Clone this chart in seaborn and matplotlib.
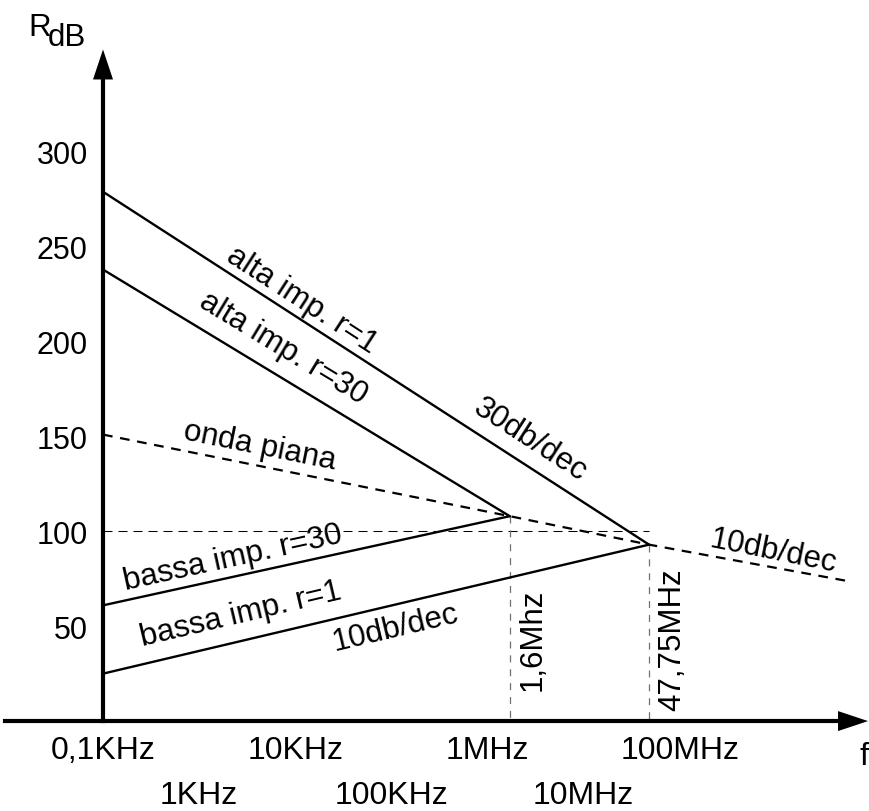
import numpy as np
import matplotlib
matplotlib.use('Agg')
import matplotlib.pyplot as plt
import seaborn as sns

# frequenze dei punti (Hz)
f_start = 1e2        # 0,1KHz
f_cut1 = 1.7e6       # ~1,6Mhz
f_cut2 = 4.775e7     # 47,75MHz
f_end = 5.3e9

# curve R_dB
alta_r1_f = [f_start, f_cut2]
alta_r1_db = [279, 93]
alta_r30_f = [f_start, f_cut1]
alta_r30_db = [238, 108]
bassa_r30_f = [f_start, f_cut1]
bassa_r30_db = [61, 108]
bassa_r1_f = [f_start, f_cut2]
bassa_r1_db = [25, 93]
onda_f = [f_start, f_cut1, f_cut2, f_end]
onda_db = [151, 108, 93, 74]

# assi: prima riga (major) e seconda riga (minor) di etichette
x_ticks_row1 = [1e2, 1e4, 1e6, 1e8]
x_labels_row1 = ['0,1KHz', '10KHz', '1MHz', '100MHz']
x_ticks_row2 = [1e3, 1e5, 1e7, 1e9]
x_labels_row2 = ['1KHz', '100KHz', '10MHz', '']
y_ticks = [50, 100, 150, 200, 250, 300]

sns.set_style('white')
plt.rcParams['font.family'] = ['Liberation Sans', 'DejaVu Sans']
plt.rcParams['text.color'] = 'black'
plt.rcParams['xtick.color'] = 'black'
plt.rcParams['ytick.color'] = 'black'
plt.rcParams['lines.scale_dashes'] = False

fig = plt.figure(figsize=(8.69, 8.12), dpi=100)
ax = fig.add_axes([0, 0, 1, 1])
ax.set_xscale('log')
ax.set_xlim(10 ** 0.9286, 10 ** 9.967)
ax.set_ylim(-47.4, 380.6)

# spine come assi con frecce
for s in ['top', 'right']:
    ax.spines[s].set_visible(False)
ax.spines['left'].set_position(('data', f_start))
ax.spines['left'].set_bounds(0, 340)
ax.spines['bottom'].set_position(('data', 0))
ax.spines['bottom'].set_bounds(10 ** 0.98, 10 ** 9.7)
for s in ['left', 'bottom']:
    ax.spines[s].set_color('black')
    ax.spines[s].set_linewidth(3)

head = dict(arrowstyle='-|>,head_length=1.5,head_width=0.5', mutation_scale=14.4,
            color='black', lw=0, shrinkA=0, shrinkB=0)
ax.annotate('', xy=(f_start, 354), xytext=(f_start, 336), arrowprops=head)
ax.annotate('', xy=(10 ** 9.957, 0), xytext=(10 ** 9.68, 0), arrowprops=head)

ax.set_xticks(x_ticks_row1)
ax.set_xticklabels(x_labels_row1)
ax.set_xticks(x_ticks_row2, minor=True)
ax.set_xticklabels(x_labels_row2, minor=True)
ax.tick_params(axis='x', which='both', direction='inout', length=14.4, width=2.2,
               labelsize=23, labelcolor='black')
ax.tick_params(axis='x', which='major', pad=3)
ax.tick_params(axis='x', which='minor', pad=35)
ax.set_yticks(y_ticks)
ax.set_yticklabels([str(v) for v in y_ticks])
ax.tick_params(axis='y', length=0, labelsize=22, labelcolor='black', pad=11)

# linee guida
ax.plot([f_start, f_cut2], [100, 100], color='black', lw=0.75, ls=(0, (6.5, 4.3)))
ax.plot([f_cut1, f_cut1], [108, 0], color='#707070', lw=0.9, ls=(0, (5, 5)))
ax.plot([f_cut2, f_cut2], [93, 0], color='#707070', lw=0.9, ls=(0, (5, 5)))

# curve
sns.lineplot(x=onda_f, y=onda_db, ax=ax, color='black', lw=1.6, ls=(0, (7, 5.5)))
for xs, ys in [(alta_r1_f, alta_r1_db), (alta_r30_f, alta_r30_db),
               (bassa_r30_f, bassa_r30_db), (bassa_r1_f, bassa_r1_db)]:
    sns.lineplot(x=xs, y=ys, ax=ax, color='black', lw=1.7)


def angolo(xs, ys):
    p = ax.transData.transform(np.column_stack([xs[:2], ys[:2]]))
    return np.degrees(np.arctan2(p[1, 1] - p[0, 1], p[1, 0] - p[0, 0]))


def etichetta(x, y, s, rot):
    ax.text(x, y, s, fontsize=22.5, rotation=rot, rotation_mode='anchor',
            ha='center', va='center', color='black')


etichetta(1.17e4, 222.5, 'alta imp. r=1', angolo(alta_r1_f, alta_r1_db))
etichetta(7.45e3, 197, 'alta imp. r=30', angolo(alta_r30_f, alta_r30_db))
etichetta(2.76e6, 148.7, '30db/dec', angolo(alta_r1_f, alta_r1_db))
etichetta(4.3e3, 145.5, 'onda piana', angolo(onda_f, onda_db))
etichetta(2.25e3, 86.5, 'bassa imp. r=30', angolo(bassa_r30_f, bassa_r30_db))
etichetta(2.72e3, 56.4, 'bassa imp. r=1', angolo(bassa_r1_f, bassa_r1_db))
etichetta(1.09e5, 49.6, '10db/dec', angolo(bassa_r1_f, bassa_r1_db))
etichetta(9.3e8, 89.6, '10db/dec', angolo(onda_f, onda_db))
etichetta(2.97e6, 43.2, '1,6Mhz', 90)
etichetta(8.28e7, 43.2, '47,75MHz', 90)
ax.text(10 ** 9.916, -18.5, 'f', fontsize=23, ha='center', va='center')

fig.text(28 / 869, 1 - 28 / 812, 'R', fontsize=22.5, ha='left', va='center')
fig.text(48 / 869, 1 - 38 / 812, 'dB', fontsize=22.5, ha='left', va='center')

fig.savefig('out.png', dpi=100)
